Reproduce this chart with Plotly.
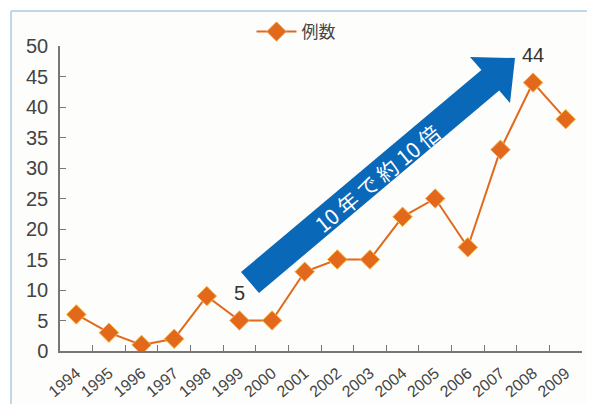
import plotly.graph_objects as go

years = ["1994", "1995", "1996", "1997", "1998", "1999", "2000", "2001",
         "2002", "2003", "2004", "2005", "2006", "2007", "2008", "2009"]
cases = [6, 3, 1, 2, 9, 5, 5, 13, 15, 15, 22, 25, 17, 33, 44, 38]
series_name = "例数"
y_ticks = [0, 5, 10, 15, 20, 25, 30, 35, 40, 45, 50]
arrow_text = "10 年 で 約 10 倍"
labelled_years = ["1999", "2008"]

W, H = 595, 406
OFF = 8  # page body margin
# plot area in window pixels
PX0, PX1, PY0, PY1 = 60, 582, 46, 351
L, R = PX0 - OFF, W - (PX1 - OFF)
T, B = PY0 - OFF, H - (PY1 - OFF)
PW, PH = PX1 - PX0, PY1 - PY0


def px(xp, yp):
    return (xp - PX0) / PW, (PY1 - yp) / PH


FONT = "Liberation Sans, Arial, Noto Sans CJK JP, sans-serif"
ORANGE = "#E2691C"

fig = go.Figure()
fig.add_trace(go.Scatter(
    x=years, y=cases, mode="lines+markers", name=series_name,
    line=dict(color=ORANGE, width=2),
    marker=dict(symbol="diamond", size=15, color=ORANGE,
                line=dict(color="#F2B84A", width=1)),
))

# frame
fx0, fy0 = px(11, 404)
fx1, fy1 = px(594, 11)
shapes = [
    dict(type="rect", xref="paper", yref="paper", x0=fx0, y0=fy0, x1=fx1, y1=fy1,
         fillcolor="#FDFDFB", line=dict(width=0), layer="below"),
    dict(type="line", xref="paper", yref="paper", x0=fx0, y0=fy1, x1=fx1, y1=fy1,
         line=dict(color="#A9CBE6", width=1.5)),
    dict(type="line", xref="paper", yref="paper", x0=fx0, y0=fy0, x1=fx0, y1=fy1,
         line=dict(color="#A9CBE6", width=1.5)),
    dict(type="line", xref="paper", yref="paper", x0=fx1, y0=fy0, x1=fx1, y1=fy1,
         line=dict(color="#EEF2F5", width=1)),
]

# big arrow
pts = [(241, 272), (259, 293), (499.2, 90.5), (510, 103), (515, 58), (470, 57), (481.4, 70.1)]
path = "M " + " L ".join(f"{px(a, b)[0]:.5f},{px(a, b)[1]:.5f}" for a, b in pts) + " Z"
shapes.append(dict(type="path", xref="paper", yref="paper", path=path,
                   fillcolor="#0A68B8", line=dict(width=0), layer="above"))

tx, ty = px(377, 178)
annotations = [
    dict(xref="paper", yref="paper", x=tx, y=ty, text=arrow_text, showarrow=False,
         textangle=-39.5, font=dict(family="Noto Sans CJK JP, sans-serif", size=21, color="white")),
]
for yr in labelled_years:
    i = years.index(yr)
    annotations.append(dict(x=i, y=cases[i], xref="x", yref="y", text=str(cases[i]),
                            showarrow=False, yshift=28,
                            font=dict(family=FONT, size=20, color="#333")))

lx, ly = px(296, 32)
fig.update_layout(
    width=W, height=H,
    margin=dict(l=L, r=R, t=T, b=B, autoexpand=False),
    paper_bgcolor="white", plot_bgcolor="rgba(0,0,0,0)",
    showlegend=True,
    legend=dict(x=lx, y=ly, xanchor="center", yanchor="middle", orientation="h",
                bgcolor="rgba(0,0,0,0)", itemwidth=40,
                font=dict(family="Noto Sans CJK JP, sans-serif", size=17, color="#444")),
    shapes=shapes, annotations=annotations,
    xaxis=dict(type="category", range=[-0.5, 15.5], showgrid=False,
               showline=True, linecolor="#777", linewidth=1.5,
               ticks="inside", ticklen=6, tickcolor="#777", tickwidth=1.2,
               tickson="boundaries", tickangle=-40, automargin=False,
               ticklabelstandoff=5,
               tickfont=dict(family=FONT, size=16, color="#444")),
    yaxis=dict(range=[0, 50], tickvals=y_ticks, showgrid=False, zeroline=False,
               showline=True, linecolor="#777", linewidth=1.5,
               ticks="inside", ticklen=6, tickcolor="#777", tickwidth=1.2,
               automargin=False, ticklabelstandoff=6,
               tickfont=dict(family=FONT, size=20, color="#444")),
)
fig.write_html("out.html")
